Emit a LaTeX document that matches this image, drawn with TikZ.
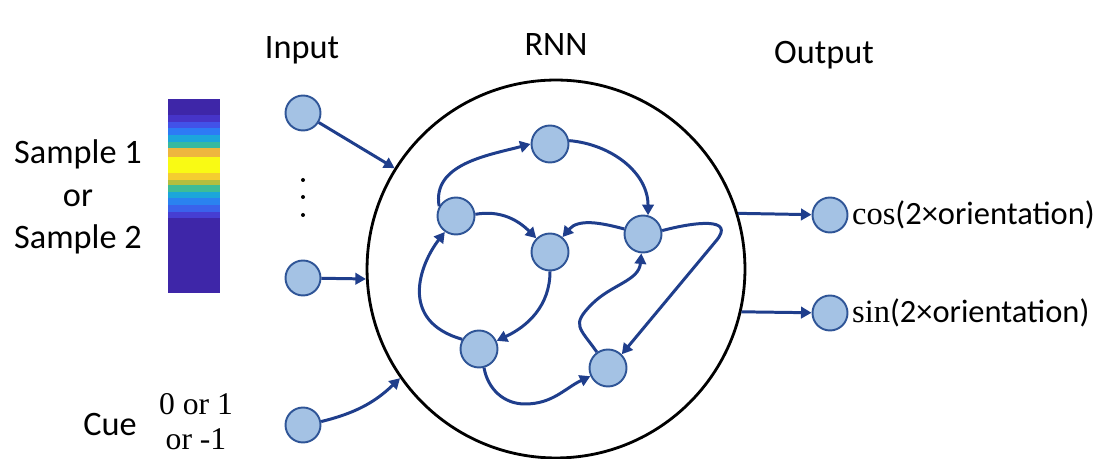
\documentclass[tikz,border=0pt]{standalone}
\usepackage{fontspec}
\setmainfont{Carlito}
\newfontfamily\timesfont{Liberation Serif}
\usetikzlibrary{arrows.meta}

\definecolor{edgeblue}{RGB}{31,62,140}
\definecolor{nodefill}{RGB}{164,194,228}
\definecolor{nodedraw}{RGB}{47,85,151}
\definecolor{par0}{RGB}{62,38,168}
\definecolor{par1}{RGB}{70,52,200}
\definecolor{par2}{RGB}{66,82,232}
\definecolor{par3}{RGB}{45,122,245}
\definecolor{par4}{RGB}{28,165,220}
\definecolor{par5}{RGB}{55,185,160}
\definecolor{par6}{RGB}{238,182,62}
\definecolor{par7}{RGB}{249,250,20}
\definecolor{par8}{RGB}{244,205,48}
\definecolor{par9}{RGB}{180,190,62}
\definecolor{par10}{RGB}{62,188,150}
\definecolor{par11}{RGB}{28,166,218}
\definecolor{par12}{RGB}{42,130,240}
\definecolor{par13}{RGB}{58,98,235}
\definecolor{par14}{RGB}{70,62,210}

\begin{document}
\begin{tikzpicture}[x=0.02cm, y=0.02cm]
        \useasboundingbox (0,0) rectangle (1101,459);

        % colour bar of the sample
        \foreach \t/\b/\c in {99/115/par0, 115/122/par1, 122/128/par2, 128/135/par3, 135/142/par4,
                142/148/par5, 148/157/par6, 157/173/par7, 173/180/par8, 180/185/par9, 185/192/par10,
                192/198/par11, 198/205/par12, 205/212/par13, 212/218/par14, 218/293/par0}
                \fill[fill=\c] (168,{459-\t}) rectangle (220,{459-\b});

        \begin{scope}[every node/.style={font=\fontsize{19.5}{24}\selectfont, inner sep=1}]
                \node (input) at (302,409) {Input};
                \node (rnn) at (556,414) {RNN};
                \node (output) at (824,404) {Output};
                \node [align=center] (sample) at (78,262) {Sample 1\\or\\Sample 2};
                \node (cue) at (110,34) {Cue};
                \node [align=center, font=\timesfont\fontsize{18}{20}\selectfont] (cueval) at (196,37) {0 or 1\\or -1};
                \node [anchor=west, font=\fontsize{18.5}{22}\selectfont] (cos) at (850,244) {{\timesfont cos}(2×orientation)};
                \node [anchor=west, font=\fontsize{18.5}{22}\selectfont] (sin) at (850,146) {{\timesfont sin}(2×orientation)};
        \end{scope}

        \node [draw, circle, line width=1.6pt, minimum size=7.56cm, inner sep=0] (R) at (556,190) {};

        \foreach \y in {279,262,244}
                \fill (303,\y) circle (2);

        \begin{scope}[every node/.style={circle, draw=nodedraw, fill=nodefill, line width=1.1pt, minimum size=0.7cm, inner sep=0}]
                \node (I1) at (303,346) {};
                \node (I2) at (303,181) {};
                \node (I3) at (303,34) {};
                \node (O1) at (830,244) {};
                \node (O2) at (830,146) {};
                \node [minimum size=0.74cm] (A) at (550,315) {};
                \node [minimum size=0.74cm] (B) at (456,243) {};
                \node [minimum size=0.74cm] (C) at (550,207) {};
                \node [minimum size=0.74cm] (D) at (643,225) {};
                \node [minimum size=0.74cm] (E) at (479,110) {};
                \node [minimum size=0.74cm] (F) at (608,91) {};
        \end{scope}

        \begin{scope}[every path/.style={edgeblue, line width=1.7pt, -{Triangle[length=6pt,width=6.5pt]}}]
                \path (I1) edge (R.148);
                \path (I2) edge (R.183);
                \path (I3) edge [bend right=15] (R.215);
                \path (R.17) edge (O1);
                \path (R.-13) edge (O2);

                \path (B.150) edge [out=100, in=195] (A.west);
                \path (A.10) edge [out=-5, in=90] (D.75);
                \path (B.5) edge [out=10, in=135] (C.135);
                \path (D.165) edge [out=165, in=50] (C.50);
                \path (C.south) edge [out=-90, in=25] (E.25);
                \draw (E.150) .. controls (398,138) and (420,195) .. (B.235);
                \draw (E.-75) to [out=-80, in=180] (525,55) to [out=0, in=205] (F.205);
                \draw (F.125) to [out=125, in=-135, looseness=1.6] (592,155) to [out=45, in=-95] (D.265);
                \draw (D.10) to [out=15, in=50, looseness=1.5] (716,218) -- (F.45);
        \end{scope}
\end{tikzpicture}
\end{document}
